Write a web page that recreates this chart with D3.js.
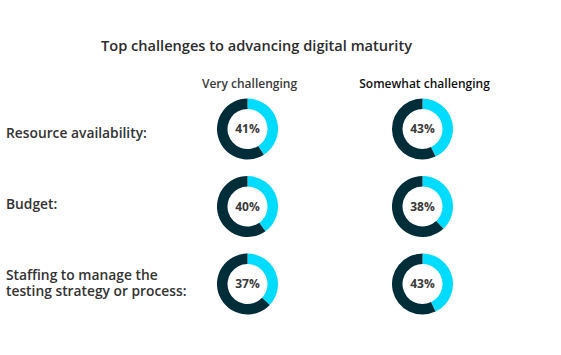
<!DOCTYPE html>
<html><head><meta charset="utf-8">
<script src="https://cdn.jsdelivr.net/npm/d3@7"></script>
<style>body{margin:0;background:#fff;}svg{display:block;font-family:"Open Sans",sans-serif;}</style>
</head><body>
<svg id="c" width="561" height="355"></svg>
<script>
const title = "Top challenges to advancing digital maturity";
const seriesNames = ["Very challenging", "Somewhat challenging"];
const categories = [["Resource availability:"], ["Budget:"], ["Staffing to manage the", "testing strategy or process:"]];
const veryChallenging = [41, 40, 37];
const somewhatChallenging = [43, 38, 43];

const svg = d3.select("#c");
const colX = d3.scalePoint().domain(seriesNames).range([247.5, 422.5]);
const rowY = d3.scalePoint().domain(d3.range(categories.length)).range([129, 284]);
const cyan = "#00dcff", dark = "#002d38";
const arc = d3.arc().innerRadius(20).outerRadius(30.5);
const pie = d3.pie().sort(null).value(d => d);

svg.append("text").attr("x", 256.5).attr("y", 51).attr("text-anchor", "middle")
  .attr("font-size", 14.6).attr("font-weight", 600).attr("fill", "#2c2c2c").text(title);

svg.selectAll(".hdr").data(seriesNames).join("text").attr("class", "hdr")
  .attr("x", d => colX(d) + 2).attr("y", 88).attr("text-anchor", "middle")
  .attr("font-size", 12).attr("font-weight", 600)
  .attr("fill", (d, i) => i === 0 ? "#3a3a3a" : "#111").text(d => d);

const labelYOff = [9, 2.5, -4];
categories.forEach((lines, i) => {
  const t = svg.append("text").attr("x", 6).attr("y", rowY(i) + labelYOff[i])
    .attr("font-size", 13.8).attr("font-weight", 600).attr("fill", "#333");
  lines.forEach((l, j) => t.append("tspan").attr("x", 6).attr("dy", j ? 16 : 0).text(l));
});

const series = [veryChallenging, somewhatChallenging];
series.forEach((vals, s) => {
  vals.forEach((v, i) => {
    const g = svg.append("g").attr("transform", `translate(${colX(seriesNames[s])},${rowY(i)})`);
    g.selectAll("path").data(pie([v, 100 - v])).join("path")
      .attr("d", arc).attr("fill", (d, k) => k === 0 ? cyan : dark);
    g.append("text").attr("text-anchor", "middle").attr("dy", "0.36em")
      .attr("font-size", 12).attr("font-weight", 700).attr("fill", "#3a3a3a").text(v + "%");
  });
});
</script>
</body></html>
